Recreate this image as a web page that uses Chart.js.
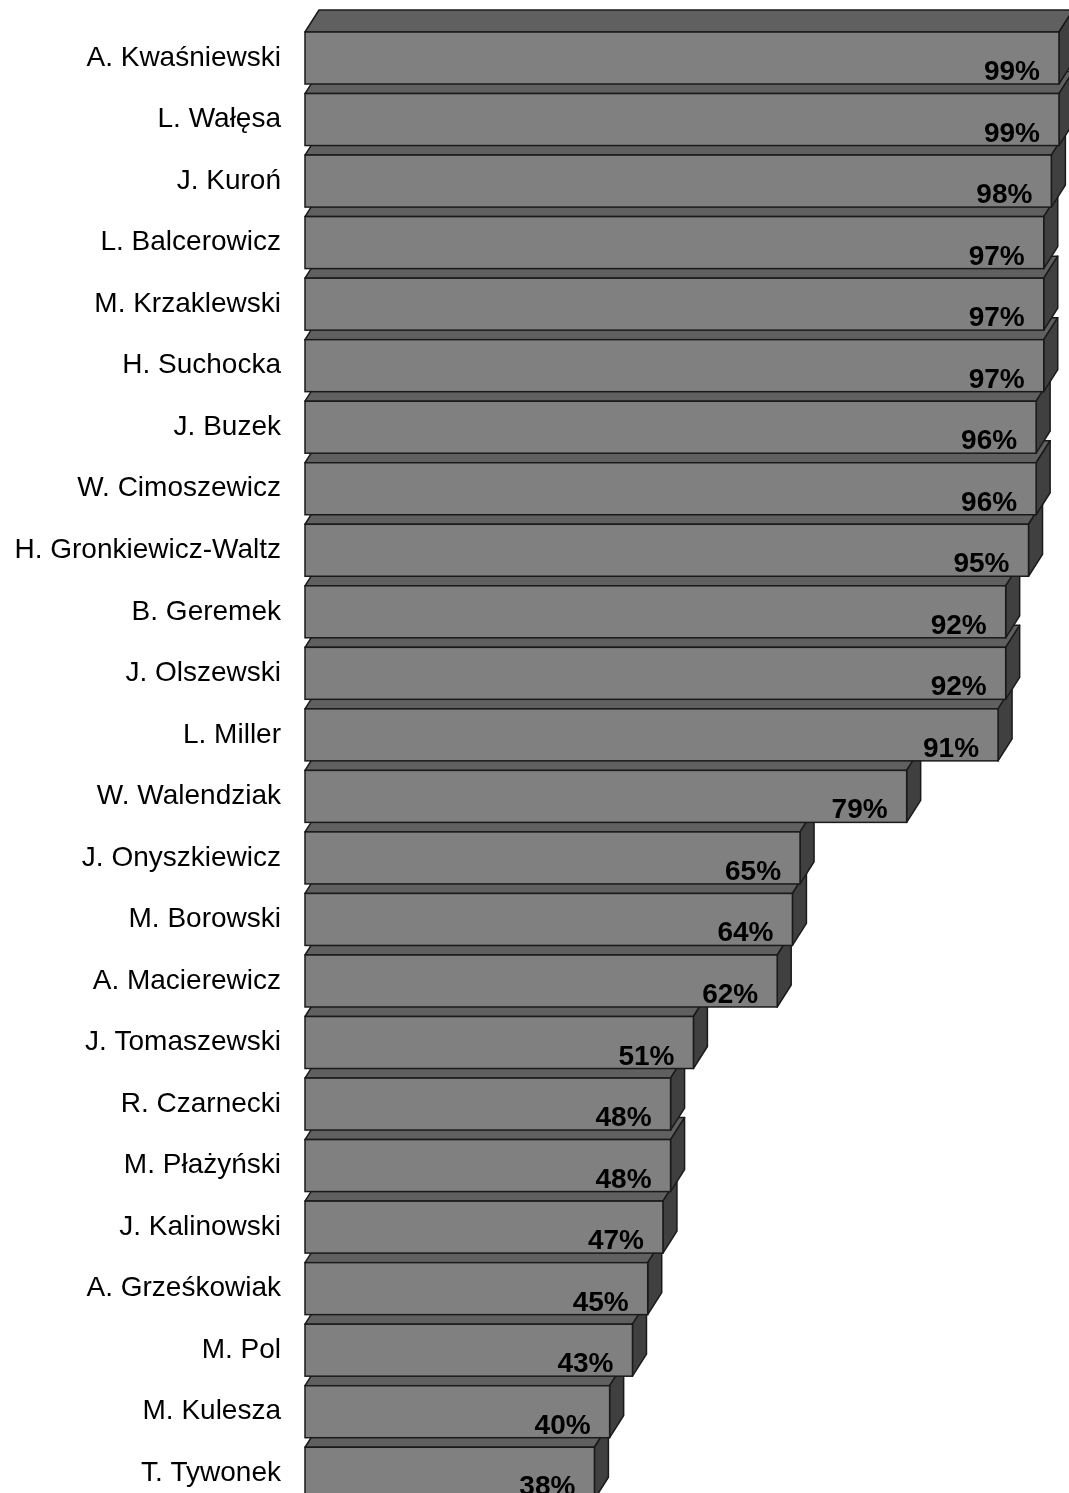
<!DOCTYPE html>
<html>
<head>
<meta charset="utf-8">
<script src="https://cdn.jsdelivr.net/npm/chart.js@4"></script>
<style>
  html, body { margin: 0; padding: 0; background: #fff; overflow: hidden; }
  #wrap { width: 1069px; height: 1504px; position: relative; }
</style>
</head>
<body>
<div id="wrap"><canvas id="chart"></canvas></div>
<script>
// nazwiska i wartości (%)
const names = [
    'A. Kwaśniewski', 'L. Wałęsa', 'J. Kuroń', 'L. Balcerowicz', 'M. Krzaklewski',
    'H. Suchocka', 'J. Buzek', 'W. Cimoszewicz', 'H. Gronkiewicz-Waltz', 'B. Geremek',
    'J. Olszewski', 'L. Miller', 'W. Walendziak', 'J. Onyszkiewicz', 'M. Borowski',
    'A. Macierewicz', 'J. Tomaszewski', 'R. Czarnecki', 'M. Płażyński', 'J. Kalinowski',
    'A. Grześkowiak', 'M. Pol', 'M. Kulesza', 'T. Tywonek'
];
const values = [99, 99, 98, 97, 97, 97, 96, 96, 95, 92, 92, 91, 79, 65, 64, 62, 51, 48, 48, 47, 45, 43, 40, 38];

const FONT = "'Liberation Sans', Arial, sans-serif";
const DX = 14, DY = 22;

// ściany 3D (góra + bok), rysowane od dołu, żeby wyższe słupki były na wierzchu
const bars3d = {
    id: 'bars3d',
    beforeDatasetsDraw(chart) {
        const ctx = chart.ctx;
        const els = chart.getDatasetMeta(0).data;
        ctx.save();
        ctx.lineWidth = 1.5;
        ctx.strokeStyle = '#1a1a1a';
        ctx.lineJoin = 'round';
        for (let i = els.length - 1; i >= 0; i--) {
            const el = els[i];
            const top = el.y - el.height / 2;
            const bottom = el.y + el.height / 2;
            const b = el.base, x = el.x;
            // góra
            ctx.beginPath();
            ctx.moveTo(b, top);
            ctx.lineTo(b + DX, top - DY);
            ctx.lineTo(x + DX, top - DY);
            ctx.lineTo(x, top);
            ctx.closePath();
            ctx.fillStyle = '#606060';
            ctx.fill();
            ctx.stroke();
            // bok
            ctx.beginPath();
            ctx.moveTo(x, top);
            ctx.lineTo(x + DX, top - DY);
            ctx.lineTo(x + DX, bottom - DY);
            ctx.lineTo(x, bottom);
            ctx.closePath();
            ctx.fillStyle = '#404040';
            ctx.fill();
            ctx.stroke();
        }
        ctx.restore();
    },
    afterDatasetsDraw(chart) {
        const ctx = chart.ctx;
        const els = chart.getDatasetMeta(0).data;
        ctx.save();
        // obrys frontu
        ctx.lineWidth = 1.5;
        ctx.strokeStyle = '#1a1a1a';
        els.forEach(el => {
            const top = el.y - el.height / 2;
            ctx.strokeRect(el.base, top, el.x - el.base, el.height);
        });
        ctx.font = 'bold 28px ' + FONT;
        ctx.fillStyle = '#000';
        ctx.textAlign = 'right';
        ctx.textBaseline = 'alphabetic';
        els.forEach((el, i) => {
            const bottom = el.y + el.height / 2;
            ctx.fillText(values[i] + '%', el.x - 19, bottom - 4);
        });
        ctx.restore();
    }
};

new Chart(document.getElementById('chart'), {
    type: 'bar',
    data: {
        labels: names,
        datasets: [{
            data: values,
            backgroundColor: '#808080',
            borderWidth: 0,
            barPercentage: 0.845,
            categoryPercentage: 1.0
        }]
    },
    options: {
        indexAxis: 'y',
        responsive: true,
        maintainAspectRatio: false,
        animation: false,
        layout: { padding: { top: 27.25, right: 2.4, bottom: 0, left: 0 } },
        scales: {
            x: { display: false, min: 0, max: 100 },
            y: {
                grid: { display: false, drawTicks: false },
                border: { display: false },
                ticks: {
                    color: '#000',
                    padding: 24,
                    font: { family: FONT, size: 28 }
                },
                afterFit(scale) {
                    scale.width = 305;
                    scale.paddingTop = 0;
                    scale.paddingBottom = 0;
                }
            }
        },
        plugins: {
            legend: { display: false },
            tooltip: { enabled: false }
        }
    },
    plugins: [bars3d]
});
</script>
</body>
</html>
